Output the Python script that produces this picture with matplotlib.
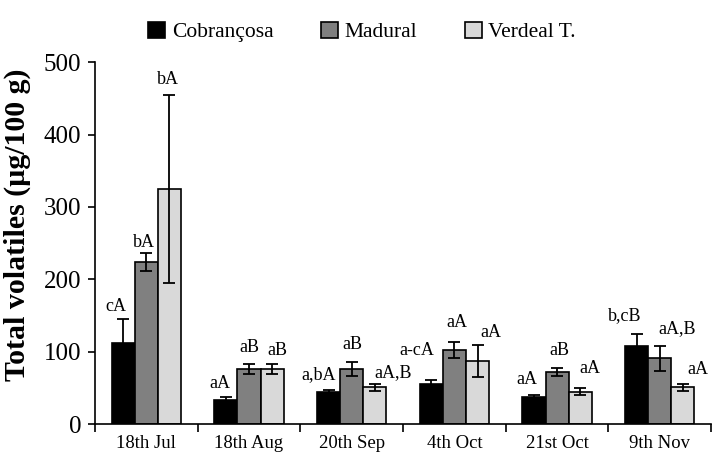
import numpy as np
import matplotlib.pyplot as plt

plt.rcParams['font.family'] = ['Liberation Serif', 'DejaVu Serif']

dates = ["18th Jul", "18th Aug", "20th Sep", "4th Oct", "21st Oct", "9th Nov"]
cultivars = ["Cobrançosa", "Madural", "Verdeal T."]
colors = ["#000000", "#808080", "#d9d9d9"]

cobrancosa = [112, 33, 44, 55, 38, 108]
madural = [224, 76, 76, 102, 72, 91]
verdeal = [325, 76, 51, 87, 45, 51]

cobrancosa_err = [33, 4, 3, 6, 2, 16]
madural_err = [12, 7, 10, 11, 5, 17]
verdeal_err = [130, 7, 5, 22, 5, 5]

cobrancosa_lbl = ["cA", "aA", "a,bA", "a-cA", "aA", "b,cB"]
madural_lbl = ["bA", "aB", "aB", "aA", "aB", "aA,B"]
verdeal_lbl = ["bA", "aB", "aA,B", "aA", "aA", "aA"]

values = [cobrancosa, madural, verdeal]
errors = [cobrancosa_err, madural_err, verdeal_err]
labels = [cobrancosa_lbl, madural_lbl, verdeal_lbl]

# label nudges in pixels (dx, dy above error bar top)
label_dx = [[-7, -6, -10, -14, -7, -12],
            [-2, 0, 1, 2, 2, 17],
            [-1, 5, 18, 13, 10, 15]]
label_dy = [[13, 14, 15, 29, 16, 19],
            [11, 17, 17, 20, 18, 17],
            [15, 14, 11, 13, 19, 14]]

fig = plt.figure(figsize=(7.14, 4.57), dpi=100)
ax = fig.add_axes([0.133, 0.072, 0.863, 0.792])

x = np.arange(len(dates))
width = 0.225
for i in range(3):
    pos = x + (i - 1) * width
    ax.bar(pos, values[i], width, color=colors[i], edgecolor="black",
           linewidth=1.2, label=cultivars[i], zorder=2)
    ax.errorbar(pos, values[i], yerr=errors[i], fmt="none", ecolor="black",
                elinewidth=1.3, capsize=4, capthick=1.3, zorder=3)
    for j in range(len(dates)):
        ax.annotate(labels[i][j], (pos[j], values[i][j] + errors[i][j]),
                    xytext=(label_dx[i][j] * 0.72, label_dy[i][j] * 0.72),
                    textcoords="offset points", ha="center", va="center",
                    fontsize=13)

ax.set_xlim(-0.5, len(dates) - 0.5)
ax.set_ylim(0, 500)
ax.set_yticks(range(0, 501, 100))
ax.set_xticks(x)
ax.set_xticklabels(dates, fontsize=13.5)
ax.set_xticks(np.arange(-0.5, len(dates), 1), minor=True)
ax.tick_params(axis="x", which="major", length=0, pad=8)
ax.tick_params(axis="x", which="minor", length=6, width=1.2, direction="out")
ax.tick_params(axis="y", labelsize=18, length=5, width=1.2, direction="out", pad=5)
ax.spines["top"].set_visible(False)
ax.spines["right"].set_visible(False)
ax.spines["left"].set_linewidth(1.2)
ax.spines["bottom"].set_linewidth(1.2)
ax.set_ylabel("Total volatiles (µg/100 g)", fontsize=21.5, fontweight="bold")
ax.yaxis.set_label_coords(-0.104, 0.55)

fig.legend(loc="upper center", bbox_to_anchor=(0.507, 0.995), ncol=3, frameon=False,
           fontsize=15.5, handlelength=0.8, handleheight=0.8, columnspacing=2.2,
           handletextpad=0.3)

fig.savefig("out.png", dpi=100)
